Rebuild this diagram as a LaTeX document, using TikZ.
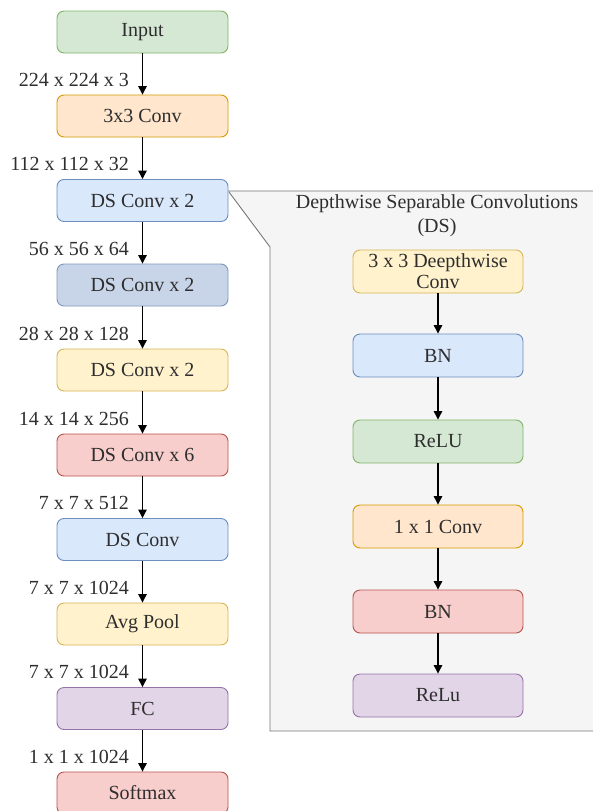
\documentclass[tikz,border=0pt]{standalone}
\usepackage{fontspec}
\setmainfont{Liberation Serif}
\usetikzlibrary{arrows.meta}
\definecolor{gfill}{HTML}{D5E8D4}\definecolor{gdraw}{HTML}{82B366}
\definecolor{ofill}{HTML}{FFE6CC}\definecolor{odraw}{HTML}{D79B00}
\definecolor{bfill}{HTML}{DAE8FC}\definecolor{bdraw}{HTML}{6C8EBF}
\definecolor{dbfill}{HTML}{C8D5E9}\definecolor{dbdraw}{HTML}{7F97BB}
\definecolor{yfill}{HTML}{FFF2CC}\definecolor{ydraw}{HTML}{D6B656}
\definecolor{rfill}{HTML}{F8CECC}\definecolor{rdraw}{HTML}{B85450}
\definecolor{pfill}{HTML}{E1D5E7}\definecolor{pdraw}{HTML}{9673A6}
\definecolor{txt}{HTML}{2E2E2E}
\definecolor{panelfill}{HTML}{F5F5F5}\definecolor{paneldraw}{HTML}{777777}
\tikzset{
  blk/.style={rounded corners=7pt, line width=0.9pt, minimum height=42pt, minimum width=171pt,
    text=txt, font=\fontsize{20}{21}\selectfont, inner sep=0pt, align=center},
  iblk/.style={blk, minimum width=170pt, minimum height=43pt},
  green/.style={fill=gfill, draw=gdraw},
  orange/.style={fill=ofill, draw=odraw},
  blue/.style={fill=bfill, draw=bdraw},
  dblue/.style={fill=dbfill, draw=dbdraw},
  yellow/.style={fill=yfill, draw=ydraw},
  red/.style={fill=rfill, draw=rdraw},
  purple/.style={fill=pfill, draw=pdraw},
  dimlbl/.style={anchor=east, inner sep=0pt, text=txt, font=\fontsize{20}{21}\selectfont,
    text height=0.68em, text depth=0pt},
  arr/.style={-{Triangle[width=8.5pt,length=8.5pt]}, line width=1.2pt, black}
}
\begin{document}
\begin{tikzpicture}[x=1pt,y=-1pt]
\useasboundingbox (0,0) rectangle (593,811);
\fill[white] (0,0) rectangle (593,811);
% detail panel
\draw[fill=panelfill, draw=paneldraw, line width=0.9pt]
  (228,191) -- (600,191) -- (600,731) -- (270,731) -- (270,247) -- (229,192);
\node[text=txt, font=\fontsize{20}{24}\selectfont, align=center] (title) at (437,216)
  {Depthwise Separable Convolutions\\(DS)};
% main column
\node[blk, green]  (in)   at (142.5,32)    {Input};
\node[blk, orange] (c3)   at (142.5,116)   {3x3 Conv};
\node[blk, blue]   (ds1)  at (142.5,200.5) {DS Conv x 2};
\node[blk, dblue]  (ds2)  at (142.5,285)   {DS Conv x 2};
\node[blk, yellow] (ds3)  at (142.5,370)   {DS Conv x 2};
\node[blk, red]    (ds4)  at (142.5,455)   {DS Conv x 6};
\node[blk, blue]   (ds5)  at (142.5,539.5) {DS Conv};
\node[blk, yellow] (avg)  at (142.5,624)   {Avg Pool};
\node[blk, purple] (fc)   at (142.5,708.5) {FC};
\node[blk, red]    (sm)   at (142.5,793)   {Softmax};
\foreach \a/\b in {in/c3, c3/ds1, ds1/ds2, ds2/ds3, ds3/ds4, ds4/ds5, ds5/avg, avg/fc, fc/sm}
  \draw[arr] (\a.south) -- (\b.north);
% dimension labels
\node[dimlbl] (l1) at (129,83)    {224 x 224 x 3};
\node[dimlbl] (l2) at (129,167.5) {112 x 112 x 32};
\node[dimlbl] (l3) at (129,252)   {56 x 56 x 64};
\node[dimlbl] (l4) at (129,337)   {28 x 28 x 128};
\node[dimlbl] (l5) at (129,422)   {14 x 14 x 256};
\node[dimlbl] (l6) at (129,506)   {7 x 7 x 512};
\node[dimlbl] (l7) at (129,591)   {7 x 7 x 1024};
\node[dimlbl] (l8) at (129,675.5) {7 x 7 x 1024};
\node[dimlbl] (l9) at (129,760)   {1 x 1 x 1024};
% inner column
\node[iblk, yellow, font=\fontsize{20}{21}\selectfont] (dw) at (438,271.5) {3 x 3 Deepthwise\\Conv};
\node[iblk, blue]   (bn1)  at (438,355.5) {BN};
\node[iblk, green]  (re1)  at (438,441.5) {ReLU};
\node[iblk, orange] (pw)   at (438,526.5) {1 x 1 Conv};
\node[iblk, red]    (bn2)  at (438,611.5) {BN};
\node[iblk, purple] (re2)  at (438,695.5) {ReLu};
\foreach \a/\b in {dw/bn1, bn1/re1, re1/pw, pw/bn2, bn2/re2}
  \draw[arr] (\a.south) -- (\b.north);
\end{tikzpicture}
\end{document}
